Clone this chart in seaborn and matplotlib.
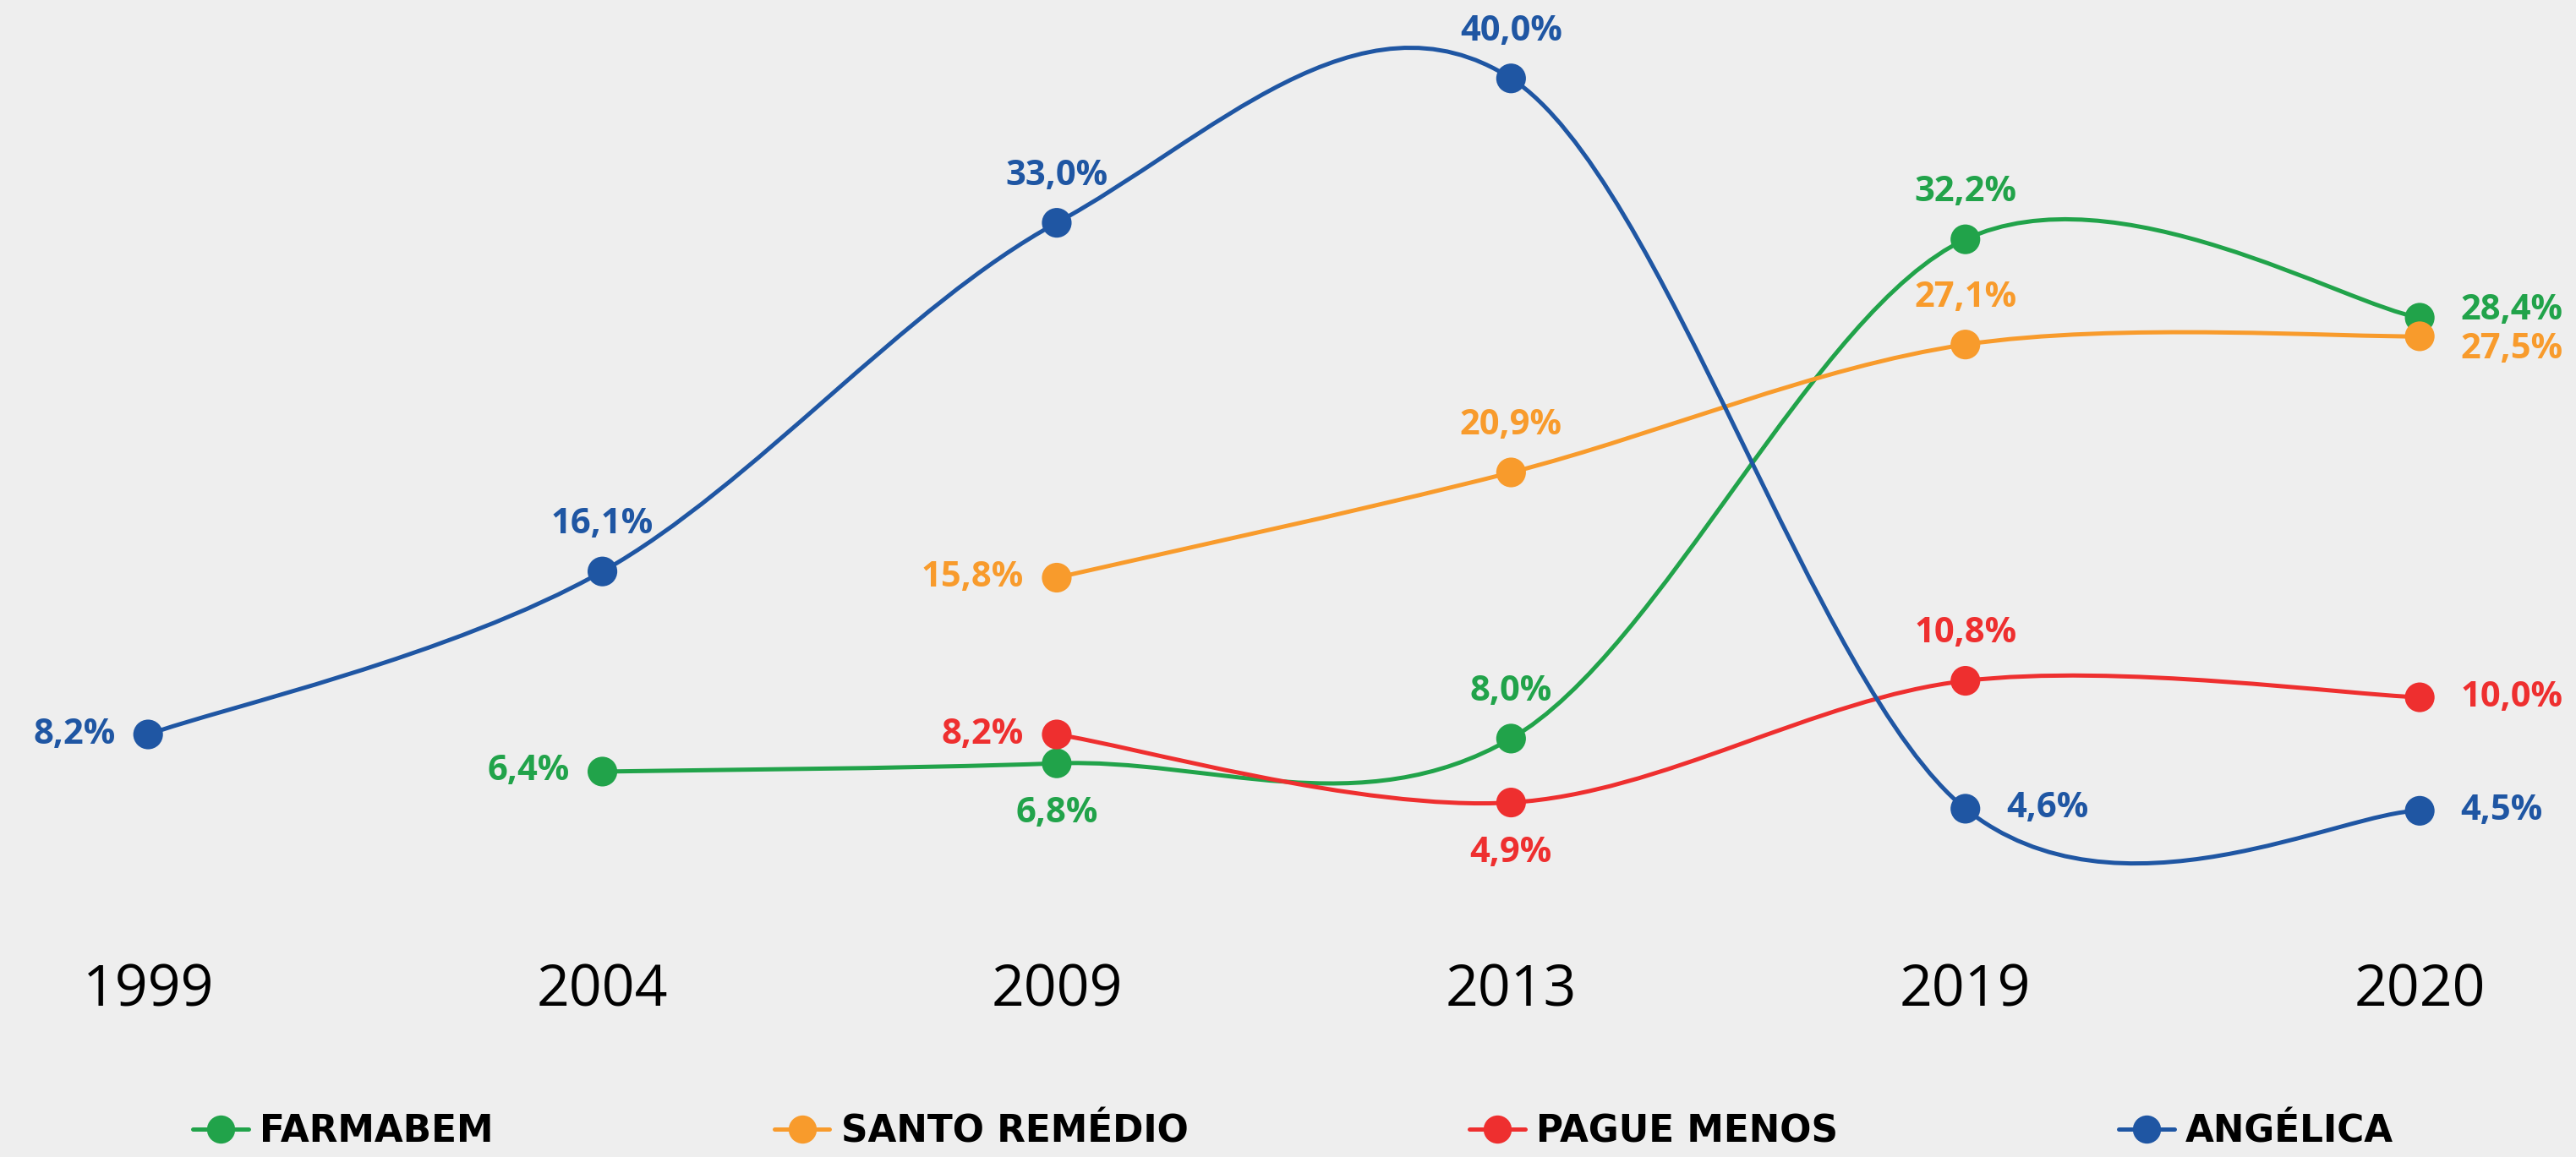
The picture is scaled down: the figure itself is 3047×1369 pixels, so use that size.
import numpy as np
import pandas as pd
import seaborn as sns
import matplotlib
matplotlib.use('Agg')
import matplotlib.pyplot as plt
from matplotlib.path import Path
from matplotlib.patches import PathPatch
from matplotlib.lines import Line2D

years = ['1999', '2004', '2009', '2013', '2019', '2020']
farmabem = [np.nan, 6.4, 6.8, 8.0, 32.2, 28.4]
santo_remedio = [np.nan, np.nan, 15.8, 20.9, 27.1, 27.5]
pague_menos = [np.nan, np.nan, 8.2, 4.9, 10.8, 10.0]
angelica = [8.2, 16.1, 33.0, 40.0, 4.6, 4.5]

names = ['FARMABEM', 'SANTO REMÉDIO', 'PAGUE MENOS', 'ANGÉLICA']
colors = ['#21A34A', '#F89B2C', '#EE2F2F', '#1F56A3']

# where the value label goes relative to each marker
label_side = [
    [None, 'left', 'below', 'above', 'above', 'right_up'],
    [None, None, 'left', 'above', 'above', 'right_down'],
    [None, None, 'left', 'below', 'above', 'right'],
    ['left', 'above', 'above', 'above', 'right', 'right'],
]
offsets = {
    'above': ((0, 40), 'center', 'center'),
    'below': ((0, -43), 'center', 'center'),
    'left': ((-28, 0), 'right', 'center'),
    'right': ((35, 0), 'left', 'center'),
    'right_up': ((35, 6), 'left', 'center'),
    'right_down': ((35, -11), 'left', 'center'),
}

series = [farmabem, santo_remedio, pague_menos, angelica]
x = np.arange(len(years))

rows = []
for name, vals in zip(names, series):
    for xi, v in zip(x, vals):
        if not np.isnan(v):
            rows.append({'x': xi, 'value': v, 'rede': name})
df = pd.DataFrame(rows)


def smooth_path(xs, ys):
    # excel-style smoothed line: catmull-rom through the points as cubic beziers
    pts = np.array([(a, b) for a, b in zip(xs, ys) if not np.isnan(b)], dtype=float)
    n = len(pts)
    verts = [pts[0]]
    codes = [Path.MOVETO]
    for i in range(n - 1):
        p0 = pts[i - 1] if i > 0 else pts[i]
        p1 = pts[i]
        p2 = pts[i + 1]
        p3 = pts[i + 2] if i + 2 < n else pts[i + 1]
        verts += [p1 + (p2 - p0) / 6, p2 - (p3 - p1) / 6, p2]
        codes += [Path.CURVE4] * 3
    return Path(verts, codes)


sns.set_theme(style='white')
plt.rcParams['font.family'] = ['DejaVu Sans']
bg = '#EEEEEE'

fig = plt.figure(figsize=(30.47, 13.69), dpi=100, facecolor=bg)
ax = fig.add_axes([0, 0.219, 1, 0.781])
ax.set_facecolor(bg)

for vals, col in zip(series, colors):
    ax.add_patch(PathPatch(smooth_path(x, vals), facecolor='none', edgecolor=col,
                           lw=3.6, zorder=2, capstyle='round'))

sns.scatterplot(data=df, x='x', y='value', hue='rede', palette=dict(zip(names, colors)),
                s=640, linewidth=0, legend=False, ax=ax, zorder=3)

for vals, col, sides in zip(series, colors, label_side):
    for xi, v, side in zip(x, vals, sides):
        if side is None:
            continue
        off, ha, va = offsets[side]
        ax.annotate(f'{v:.1f}%'.replace('.', ','), (xi, v), xytext=off,
                    textcoords='offset points', ha=ha, va=va, color=col,
                    fontsize=30, fontweight='bold', family='Open Sans')

ax.set_xlim(-0.326, 5.344)
ax.set_ylim(0, 43.8)
ax.set_xticks(x)
ax.set_xticklabels(years, fontsize=49, family='Open Sans', color='black')
ax.tick_params(axis='x', length=0, pad=50)
ax.set_yticks([])
ax.set_xlabel('')
ax.set_ylabel('')
for s in ax.spines.values():
    s.set_visible(False)

handles = [Line2D([0], [0], color=c, lw=3.6, marker='o', markersize=24, markeredgewidth=0)
           for c in colors]
leg = fig.legend(handles, names, loc='center', bbox_to_anchor=(0.502, 0.022), ncol=4,
                 frameon=False, handlelength=1.5, handletextpad=0.3, columnspacing=7.6,
                 labelcolor='black',
                 prop={'size': 31.5, 'weight': 'bold', 'family': 'DejaVu Sans'})

fig.savefig('out.png', dpi=100, facecolor=bg)
